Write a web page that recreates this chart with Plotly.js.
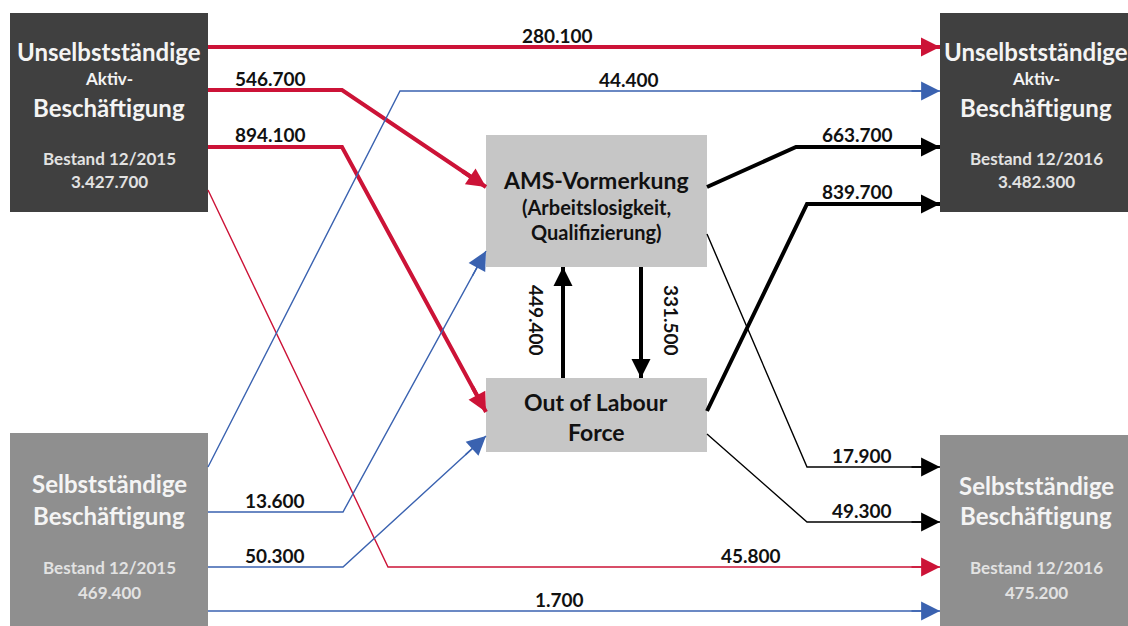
<!DOCTYPE html>
<html>
<head>
<meta charset="utf-8">
<script src="https://cdn.plot.ly/plotly-3.0.1.min.js"></script>
<style>html,body{margin:0;padding:0;background:#fff;}#chart{width:1128px;height:626px;}</style>
</head>
<body>
<div id="chart"></div>
<script>
// ---------- DATA ----------
const nodeIds    = ['U2015', 'S2015', 'AMS', 'OLF', 'U2016', 'S2016'];
const nodeTitle  = ['Unselbstständige', 'Selbstständige', 'AMS-Vormerkung', 'Out of Labour', 'Unselbstständige', 'Selbstständige'];
const nodeSub    = ['Aktiv-', '', '(Arbeitslosigkeit,', '', 'Aktiv-', ''];
const nodeTitle2 = ['Beschäftigung', 'Beschäftigung', 'Qualifizierung)', 'Force', 'Beschäftigung', 'Beschäftigung'];
const stockLabel = ['Bestand 12/2015', 'Bestand 12/2015', '', '', 'Bestand 12/2016', 'Bestand 12/2016'];
const stockValue = [3427700, 469400, null, null, 3482300, 475200];

const flowFrom   = ['U2015', 'U2015', 'U2015', 'U2015', 'S2015', 'S2015', 'S2015', 'S2015', 'AMS', 'OLF', 'AMS', 'OLF', 'OLF', 'AMS'];
const flowTo     = ['U2016', 'AMS', 'OLF', 'S2016', 'U2016', 'AMS', 'OLF', 'S2016', 'U2016', 'U2016', 'S2016', 'S2016', 'AMS', 'OLF'];
const flowValues = [280100, 546700, 894100, 45800, 44400, 13600, 50300, 1700, 663700, 839700, 17900, 49300, 449400, 331500];

// ---------- LAYOUT (diagram geometry in pixel space) ----------
const boxGeom = {
  U2015: {x0: 10, x1: 208, y0: 13, y1: 212, fill: '#404040', cx: 109},
  S2015: {x0: 10, x1: 208, y0: 433, y1: 640, fill: '#8f8f8f', cx: 109},
  AMS:   {x0: 486, x1: 707, y0: 135, y1: 267, fill: '#c6c6c6', cx: 596},
  OLF:   {x0: 486, x1: 707, y0: 378, y1: 452, fill: '#c6c6c6', cx: 596},
  U2016: {x0: 940, x1: 1140, y0: 13, y1: 212, fill: '#404040', cx: 1036},
  S2016: {x0: 940, x1: 1140, y0: 435, y1: 640, fill: '#8f8f8f', cx: 1036}
};
// rows: [title, sub, title2, stock label, stock value] -> y positions
const textRows = {
  U2015: [51, 78, 107, 158, 181],
  S2015: [483, null, 515, 567, 592],
  AMS:   [180, 207, 232, null, null],
  OLF:   [402, null, 432, null, null],
  U2016: [51, 78, 107, 158, 181],
  S2016: [485, null, 515, 567, 592]
};
const textSizes = {
  U2015: [24, 17, 24, 17, 17],
  S2015: [24, 17, 24, 17, 17],
  AMS:   [23, 20, 20, 0, 0],
  OLF:   [23, 0, 23, 0, 0],
  U2016: [24, 17, 24, 17, 17],
  S2016: [24, 17, 24, 17, 17]
};
const routes = [
  {pts: [[208, 47], [940, 47]], lab: [557, 35]},
  {pts: [[208, 90], [342, 90], [486, 187]], lab: [270, 78]},
  {pts: [[208, 147], [342, 147], [486, 412]], lab: [270, 134]},
  {pts: [[208, 190], [388, 567], [940, 567]], lab: [751, 555]},
  {pts: [[208, 467], [400, 91], [940, 91]], lab: [629, 79]},
  {pts: [[208, 512], [343, 512], [486, 251]], lab: [275, 500]},
  {pts: [[208, 567], [343, 567], [486, 436]], lab: [275, 555]},
  {pts: [[208, 611], [940, 611]], lab: [559, 599]},
  {pts: [[707, 187], [796, 147], [940, 147]], lab: [857, 134]},
  {pts: [[707, 411], [807, 204], [940, 204]], lab: [857, 191]},
  {pts: [[707, 234], [807, 467], [940, 467]], lab: [862, 455]},
  {pts: [[707, 434], [807, 522], [940, 522]], lab: [862, 510]},
  {pts: [[563, 378], [563, 267]], lab: [537, 320], rot: 90},
  {pts: [[641, 267], [641, 378]], lab: [672, 320], rot: 90}
];
const srcColor = {U2015: '#cc1337', S2015: '#3a62b0', AMS: '#000000', OLF: '#000000'};

const FONT = 'Lato, "Open Sans", sans-serif';
function fmt(v) { return String(v).replace(/\B(?=(\d{3})+(?!\d))/g, '.'); }

const traces = [];
const shapes = [];
const annotations = [];

nodeIds.forEach((id, i) => {
  const g = boxGeom[id];
  shapes.push({type: 'rect', xref: 'x', yref: 'y', x0: g.x0, x1: g.x1, y0: g.y0, y1: g.y1,
               fillcolor: g.fill, line: {width: 0}, layer: 'below'});
  const dark = id !== 'AMS' && id !== 'OLF';
  const main = dark ? '#f4f4f4' : '#111111';
  const rows = textRows[id];
  const sz = textSizes[id];
  const items = [
    [nodeTitle[i], rows[0], sz[0], main],
    [nodeSub[i], rows[1], sz[1], main],
    [nodeTitle2[i], rows[2], sz[2], main],
    [stockLabel[i], rows[3], sz[3], '#e2e2e2'],
    [stockValue[i] == null ? '' : fmt(stockValue[i]), rows[4], sz[4], '#e2e2e2']
  ];
  items.forEach(([t, y, s, c]) => {
    if (!t || y == null) return;
    annotations.push({xref: 'x', yref: 'y', x: g.cx, y: y, text: '<b>' + t + '</b>', showarrow: false,
      xanchor: 'center', yanchor: 'middle', font: {family: FONT, size: s, color: c}});
  });
});

flowValues.forEach((v, i) => {
  const r = routes[i];
  const col = srcColor[flowFrom[i]];
  const thick = v >= 250000;
  const w = thick ? 4 : 1.4;
  traces.push({
    type: 'scatter', mode: 'lines',
    x: r.pts.map(p => p[0]), y: r.pts.map(p => p[1]),
    line: {color: col, width: w}, hoverinfo: 'skip', showlegend: false
  });
  const n = r.pts.length;
  const tip = r.pts[n - 1], prev = r.pts[n - 2];
  const dx = tip[0] - prev[0], dy = tip[1] - prev[1];
  const L = Math.hypot(dx, dy);
  const back = 30;
  annotations.push({
    xref: 'x', yref: 'y', axref: 'x', ayref: 'y',
    x: tip[0], y: tip[1], ax: tip[0] - dx / L * back, ay: tip[1] - dy / L * back,
    text: '', showarrow: true, arrowhead: 2, arrowcolor: col,
    arrowwidth: w, arrowsize: thick ? 0.95 : 2.7, standoff: 0
  });
  annotations.push({
    xref: 'x', yref: 'y', x: r.lab[0], y: r.lab[1], text: '<b>' + fmt(v) + '</b>',
    showarrow: false, xanchor: 'center', yanchor: 'middle', textangle: r.rot || 0,
    font: {family: FONT, size: 19, color: '#111111'}
  });
});

const layout = {
  width: 1128, height: 626,
  margin: {l: 0, r: 0, t: 0, b: 0},
  paper_bgcolor: '#ffffff', plot_bgcolor: '#ffffff',
  xaxis: {range: [0, 1128], visible: false, fixedrange: true},
  yaxis: {range: [626, 0], visible: false, fixedrange: true},
  shapes: shapes, annotations: annotations, showlegend: false
};
Plotly.newPlot('chart', traces, layout, {displayModeBar: false, staticPlot: true});
</script>
</body>
</html>
